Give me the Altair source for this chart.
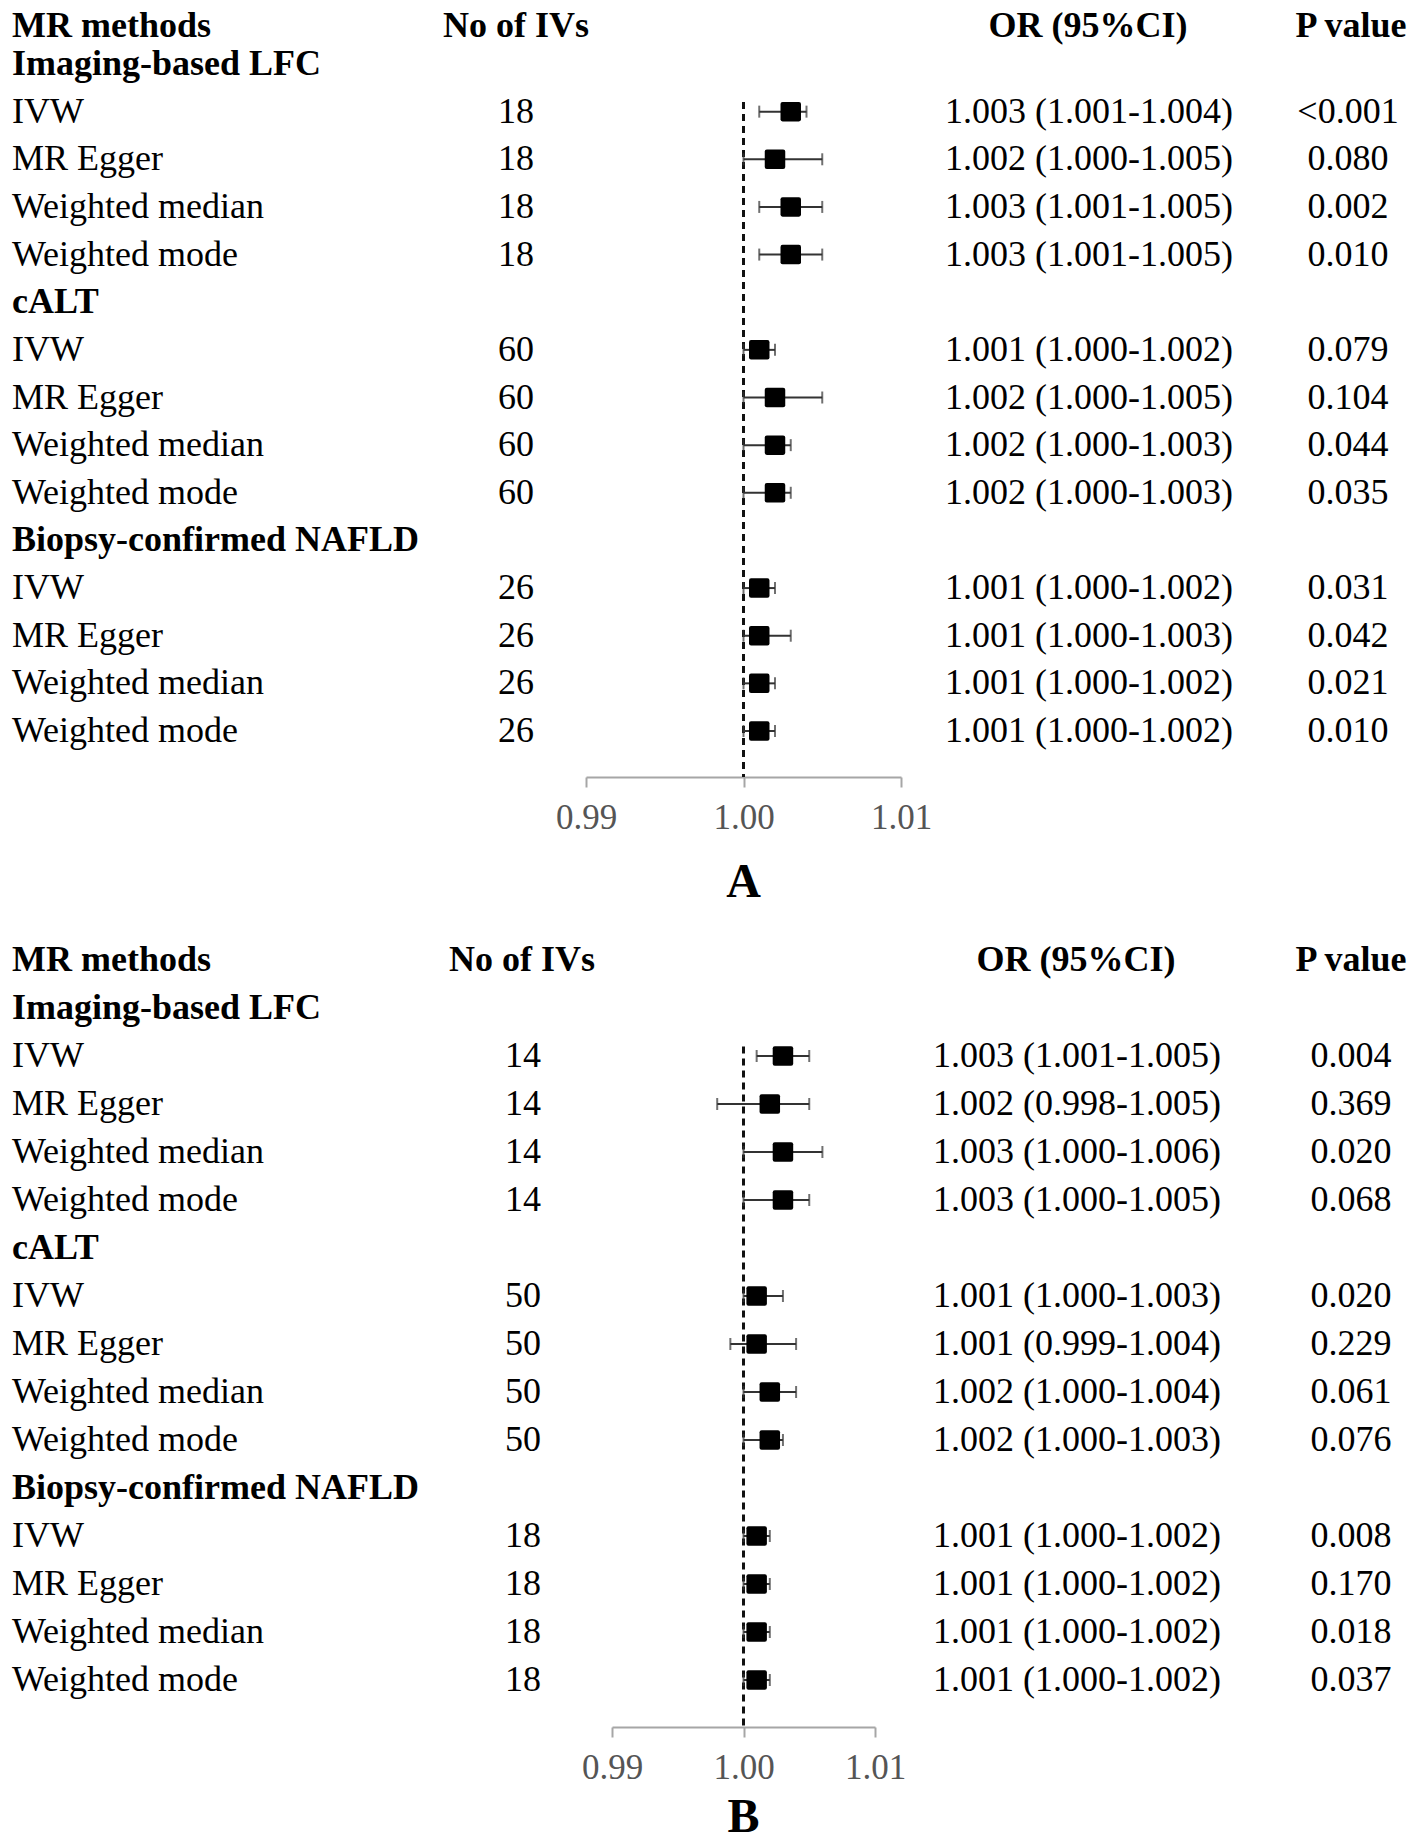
import altair as alt
import pandas as pd

FONT = "Liberation Serif"

headers = ["MR methods", "No of IVs", "OR (95%CI)", "P value"]
groups = ["Imaging-based LFC", "cALT", "Biopsy-confirmed NAFLD"]
methods = ["IVW", "MR Egger", "Weighted median", "Weighted mode"]

# Panel A
n_A = [18, 18, 18, 18, 60, 60, 60, 60, 26, 26, 26, 26]
or_A = [1.003, 1.002, 1.003, 1.003, 1.001, 1.002, 1.002, 1.002, 1.001, 1.001, 1.001, 1.001]
lo_A = [1.001, 1.000, 1.001, 1.001, 1.000, 1.000, 1.000, 1.000, 1.000, 1.000, 1.000, 1.000]
hi_A = [1.004, 1.005, 1.005, 1.005, 1.002, 1.005, 1.003, 1.003, 1.002, 1.003, 1.002, 1.002]
p_A = ["<0.001", "0.080", "0.002", "0.010", "0.079", "0.104", "0.044", "0.035",
       "0.031", "0.042", "0.021", "0.010"]

# Panel B
n_B = [14, 14, 14, 14, 50, 50, 50, 50, 18, 18, 18, 18]
or_B = [1.003, 1.002, 1.003, 1.003, 1.001, 1.001, 1.002, 1.002, 1.001, 1.001, 1.001, 1.001]
lo_B = [1.001, 0.998, 1.000, 1.000, 1.000, 0.999, 1.000, 1.000, 1.000, 1.000, 1.000, 1.000]
hi_B = [1.005, 1.005, 1.006, 1.005, 1.003, 1.004, 1.004, 1.003, 1.002, 1.002, 1.002, 1.002]
p_B = ["0.004", "0.369", "0.020", "0.068", "0.020", "0.229", "0.061", "0.076",
       "0.008", "0.170", "0.018", "0.037"]

ticks = [0.99, 1.00, 1.01]

SQUARE = ("M-0.8,-0.95H0.8Q1,-0.95 1,-0.75V0.75Q1,0.95 0.8,0.95H-0.8Q-1,0.95 -1,0.75"
          "V-0.75Q-1,-0.95 -0.8,-0.95Z")


def build(n, orv, lo, hi, p):
    trows = []
    frows = []
    cols = ["method", "n", "or", "p"]
    for c, h in zip(cols, headers):
        trows.append(dict(row=0, text=h, col=c, w="bold"))
    r = 1
    k = 0
    for g in groups:
        trows.append(dict(row=r, text=g, col="method", w="bold"))
        r += 1
        for m in methods:
            trows.append(dict(row=r, text=m, col="method", w="normal"))
            trows.append(dict(row=r, text=str(n[k]), col="n", w="normal"))
            trows.append(dict(row=r, text=f"{orv[k]:.3f} ({lo[k]:.3f}-{hi[k]:.3f})",
                              col="or", w="normal"))
            trows.append(dict(row=r, text=p[k], col="p", w="normal"))
            frows.append(dict(row=r, est=orv[k], lo=lo[k], hi=hi[k]))
            r += 1
            k += 1
    return pd.DataFrame(trows), pd.DataFrame(frows)


def panel(n, orv, lo, hi, p, letter, xrange, yrange, height, colx, hdrx, letter_y):
    tdf, fdf = build(n, orv, lo, hi, p)
    yscale = alt.Scale(domain=[0, 1, 15], range=yrange, nice=False, zero=False)
    xscale = alt.Scale(domain=[0.99, 1.01], range=xrange, nice=False, zero=False)

    def Y(field="row"):
        return alt.Y(f"{field}:Q", scale=yscale, axis=None, title=None)

    layers = []
    for col, align in [("method", "left"), ("n", "center"), ("or", "center"), ("p", "center")]:
        for w in ["bold", "normal"]:
            sub = tdf[(tdf["col"] == col) & (tdf["w"] == w)]
            if len(sub) == 0:
                continue
            xpos = hdrx[col] if w == "bold" else colx[col]
            layers.append(
                alt.Chart(sub).mark_text(
                    align=align, baseline="middle", font=FONT, fontSize=36,
                    fontWeight=w, color="#000000"
                ).encode(x=alt.value(xpos), y=Y(), text="text:N")
            )

    base_f = alt.Chart(fdf)
    ci = base_f.mark_rule(color="#333333", strokeWidth=2).encode(
        x=alt.X("lo:Q", scale=xscale, title=None,
                axis=alt.Axis(values=ticks, format=".2f", grid=False, title=None,
                              domainColor="#a6a6a6", domainWidth=2,
                              tickColor="#a6a6a6", tickWidth=2, tickSize=10,
                              labelFont=FONT, labelFontSize=35, labelColor="#555555",
                              labelPadding=13, labelFlush=False)),
        x2="hi:Q",
        y=Y(),
    )
    caps = base_f.transform_fold(["lo", "hi"], as_=["end", "val"]).mark_tick(
        color="#333333", thickness=2, size=12, orient="vertical"
    ).encode(x=alt.X("val:Q", scale=xscale, title=None), y=Y())
    sq = base_f.mark_point(shape=SQUARE, filled=True, color="#000000", opacity=1,
                           size=420, strokeWidth=0).encode(
        x=alt.X("est:Q", scale=xscale, title=None), y=Y())
    ref = alt.Chart(pd.DataFrame({"v": [1.0], "r": [1.8]})).mark_rule(
        color="#111111", strokeWidth=3, strokeDash=[7, 5]
    ).encode(x=alt.X("v:Q", scale=xscale, title=None), y=Y("r"), y2=alt.value(height))
    lab = alt.Chart(pd.DataFrame({"v": [1.0], "t": [letter]})).mark_text(
        font=FONT, fontSize=48, fontWeight="bold", color="#000000",
        align="center", baseline="middle"
    ).encode(x=alt.X("v:Q", scale=xscale, title=None), y=alt.value(letter_y), text="t:N")

    return alt.layer(ref, ci, caps, sq, *layers, lab).properties(width=1401, height=height)


chartA = panel(
    n_A, or_A, lo_A, hi_A, p_A, "A",
    xrange=[578, 893], yrange=[18, 56, 723], height=769,
    colx={"method": 4, "n": 508, "or": 1081, "p": 1340},
    hdrx={"method": 4, "n": 508, "or": 1080, "p": 1343},
    letter_y=875,
)
chartB = panel(
    n_B, or_B, lo_B, hi_B, p_B, "B",
    xrange=[604, 867], yrange=[18, 66, 738], height=785,
    colx={"method": 4, "n": 515, "or": 1069, "p": 1343},
    hdrx={"method": 4, "n": 514, "or": 1068, "p": 1343},
    letter_y=876,
)

chart = alt.vconcat(chartA, chartB, spacing=35, padding=0).configure_view(stroke=None)

chart.save("out.html", embed_options={"renderer": "svg", "actions": False})
